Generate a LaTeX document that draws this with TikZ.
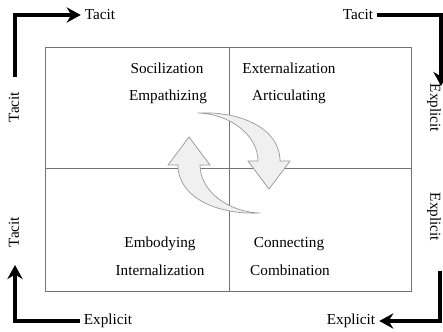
\documentclass[tikz,border=0pt]{standalone}
\usepackage{fontspec}
\setmainfont{Liberation Serif}
\usetikzlibrary{arrows.meta}

\begin{document}
\begin{tikzpicture}[x=0.03cm,y=-0.03cm,
                    >={Stealth[length=12pt,width=13pt]},
                    every node/.style={font=\fontsize{13pt}{15pt}\selectfont},
                    flow/.style={->,line width=3pt},
                    quadrant/.style={draw=black!55,line width=0.8pt},
                    swirl/.style={draw=black!40,fill=black!6,line width=0.6pt}]
\useasboundingbox (0,0) rectangle (443,331);

  % the four quadrants
  \draw[quadrant] (45,47) rectangle (411,291);
  \draw[quadrant] (229,47) -- (229,291);
  \draw[quadrant] (45,168) -- (411,168);

  \node[anchor=base] (soc) at (167,73)  {Socilization};
  \node[anchor=base] (emp) at (168,100) {Empathizing};
  \node[anchor=base] (ext) at (289,73)  {Externalization};
  \node[anchor=base] (art) at (289,100) {Articulating};
  \node[anchor=base] (emb) at (160,247) {Embodying};
  \node[anchor=base] (int) at (160,275) {Internalization};
  \node[anchor=base] (con) at (289,247) {Connecting};
  \node[anchor=base] (com) at (290,275) {Combination};

  % the spiral in the middle
  \filldraw[swirl] (198,113) .. controls (240,111) and (280,128) .. (280,161)
        -- (290,161) -- (269,189) -- (248,161) -- (258,161)
        .. controls (258,135) and (230,114) .. (198,113) -- cycle;
  \filldraw[swirl,rotate around={180:(229,163)}] (198,113) .. controls (240,111) and (280,128) .. (280,161)
        -- (290,161) -- (269,189) -- (248,161) -- (258,161)
        .. controls (258,135) and (230,114) .. (198,113) -- cycle;

  % labels round the border
  \node (tacitTL)    at (100,15)  {Tacit};
  \node (tacitTR)    at (358,15)  {Tacit};
  \node (explicitBL) at (108,321) {Explicit};
  \node (explicitBR) at (351,321) {Explicit};
  \node[rotate=90]  (tacitL1)    at (14,107)  {Tacit};
  \node[rotate=90]  (tacitL2)    at (14,232)  {Tacit};
  \node[rotate=-90,inner sep=1pt] (explicitR1) at (434,108) {Explicit};
  \node[rotate=-90,inner sep=1pt] (explicitR2) at (434,217) {Explicit};

  \coordinate (tlStart) at (15,77);
  \coordinate (blTip)   at (15,265);
  \coordinate (brStart) at (440,271);

  \draw[flow] (tlStart) |- (tacitTL.west);
  \draw[flow] (tacitTR.east) -| ([xshift=6,yshift=-3]explicitR1.west);
  \draw[flow] (brStart) |- (explicitBR.east);
  \draw[flow] (explicitBL.west) -| (blTip);

\end{tikzpicture}
\end{document}
